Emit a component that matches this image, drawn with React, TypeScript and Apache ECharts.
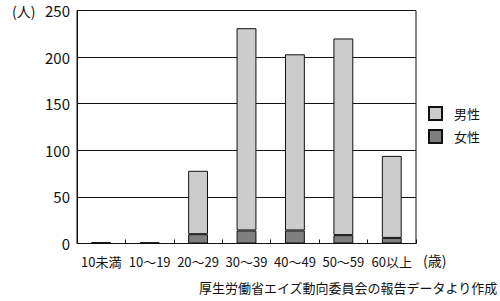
import React, { useEffect, useRef } from "react";
import * as echarts from "echarts";

const categories = ["10未満", "10～19", "20～29", "30～39", "40～49", "50～59", "60以上"];
const femaleValues = [0.5, 0.3, 10, 14, 14, 9, 6];
const maleValues = [0.7, 0.9, 68, 217, 189, 211, 88];
const yTicks = { min: 0, max: 250, interval: 50 };
const seriesNames = ["女性", "男性"];
const yUnit = "(人)";
const xUnit = "(歳)";
const sourceNote = "厚生労働省エイズ動向委員会の報告データより作成";

const FONT = "'Noto Sans CJK JP', 'Noto Sans', sans-serif";

export default function App() {
  const ref = useRef<HTMLDivElement>(null);
  useEffect(() => {
    document.body.style.margin = "0";
    const chart = echarts.init(ref.current!, null, { renderer: "svg" });
    chart.setOption({
      animation: false,
      backgroundColor: "#ffffff",
      textStyle: { fontFamily: FONT },
      grid: {
        left: 77,
        right: 84,
        top: 10.5,
        bottom: 57.5,
        show: true,
        borderColor: "#111",
        borderWidth: 1,
        containLabel: false,
      },
      legend: {
        orient: "vertical",
        left: 423,
        top: 101,
        itemWidth: 13,
        itemHeight: 13,
        itemGap: 8,
        icon: "rect",
        data: [seriesNames[1], seriesNames[0]],
        textStyle: { fontSize: 13, color: "#111", fontFamily: FONT, padding: [0, 0, 0, 7] },
      },
      xAxis: {
        type: "category",
        data: categories,
        axisLine: { lineStyle: { color: "#111", width: 1 } },
        axisTick: { show: true, inside: true, length: 4, lineStyle: { color: "#111" } },
        axisLabel: { color: "#111", fontSize: 13, margin: 11, fontFamily: FONT, interval: 0 },
      },
      yAxis: {
        type: "value",
        min: yTicks.min,
        max: yTicks.max,
        interval: yTicks.interval,
        axisLine: { show: true, lineStyle: { color: "#111", width: 1 } },
        axisTick: { show: false },
        splitLine: { lineStyle: { color: "#111", width: 1 } },
        axisLabel: { color: "#111", fontSize: 15, margin: 7, fontFamily: FONT },
      },
      series: [
        {
          name: seriesNames[0],
          type: "bar",
          stack: "total",
          data: femaleValues,
          barWidth: "41%",
          itemStyle: { color: "#7f7f7f", borderColor: "#111", borderWidth: 1 },
        },
        {
          name: seriesNames[1],
          type: "bar",
          stack: "total",
          data: maleValues,
          barWidth: "41%",
          itemStyle: { color: "#cccccc", borderColor: "#111", borderWidth: 1 },
        },
      ],
      graphic: [
        {
          type: "text",
          left: 12,
          top: 4,
          style: { text: yUnit, fontSize: 14, fill: "#111", fontFamily: FONT },
        },
        {
          type: "text",
          left: 423,
          top: 253,
          style: { text: xUnit, fontSize: 14, fill: "#111", fontFamily: FONT },
        },
        {
          type: "text",
          right: 2,
          top: 281,
          style: { text: sourceNote, fontSize: 13, fill: "#111", fontFamily: FONT },
        },
      ],
    });
    return () => chart.dispose();
  }, []);
  return <div ref={ref} style={{ width: 500, height: 301 }} />;
}
